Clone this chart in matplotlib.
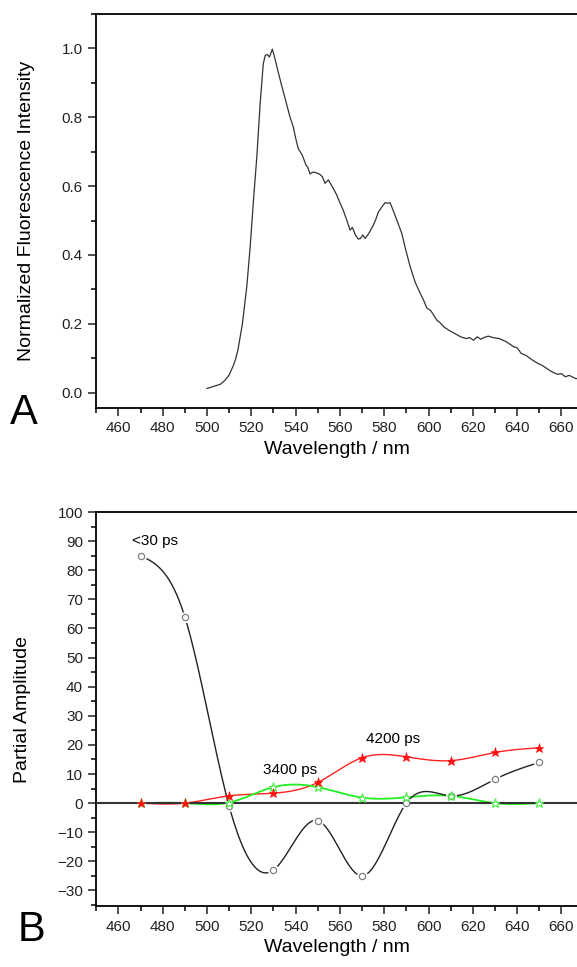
#fluorescence spectrum (A) and partial amplitudes (B)

import numpy as np
from matplotlib import pyplot as plt
from matplotlib.ticker import MultipleLocator

plt.rcParams['font.family'] = ['Liberation Sans', 'DejaVu Sans']

# panel A: normalized emission spectrum
spec_wl = [500, 503, 506, 508, 510, 512, 513, 514, 516, 518, 519.5, 521, 522.5, 524,
           525.4, 526.3, 527.3, 528.2, 529.5, 530.5, 532.2, 534, 535.7, 537.5, 539, 540,
           541.2, 543, 544.7, 545.5, 546.5, 547.5, 548.8, 550.7, 552, 553.3, 554.8, 557,
           558.5, 560.1, 561.5, 563.1, 564.6, 565.6, 567, 568.3, 569.3, 570.3, 571.4, 573,
           575.1, 576, 577.4, 579, 580.4, 581.5, 582.6, 584, 585.7, 587.9, 589.5, 591.7,
           594, 596.2, 598, 599.2, 601, 603.8, 605.2, 607.1, 609.5, 612, 614.5, 617,
           618.5, 620.3, 622, 623.6, 625, 627, 629, 631.9, 635, 638.5, 640, 641.8, 644,
           645.9, 647.5, 649.3, 651, 653.4, 655, 656.5, 658.3, 660, 661.7, 663.5, 666.3, 668]
spec_int = [0.012, 0.018, 0.024, 0.035, 0.051, 0.080, 0.099, 0.125, 0.200, 0.310, 0.424,
            0.560, 0.685, 0.840, 0.955, 0.980, 0.982, 0.975, 0.998, 0.975, 0.930, 0.885,
            0.844, 0.800, 0.771, 0.740, 0.709, 0.690, 0.661, 0.655, 0.635, 0.640, 0.640,
            0.635, 0.628, 0.608, 0.618, 0.593, 0.575, 0.550, 0.530, 0.501, 0.472, 0.480,
            0.458, 0.446, 0.448, 0.458, 0.448, 0.462, 0.487, 0.500, 0.525, 0.540, 0.552,
            0.550, 0.552, 0.530, 0.501, 0.463, 0.420, 0.366, 0.320, 0.289, 0.265, 0.246,
            0.238, 0.210, 0.203, 0.190, 0.180, 0.171, 0.162, 0.157, 0.160, 0.152, 0.162,
            0.155, 0.160, 0.164, 0.160, 0.157, 0.148, 0.133, 0.130, 0.114, 0.108, 0.099,
            0.092, 0.085, 0.080, 0.070, 0.063, 0.058, 0.053, 0.055, 0.046, 0.050, 0.041,
            0.040]

# panel B: decay associated amplitudes
amp_wl = [470, 490, 510, 530, 550, 570, 590, 610, 630, 650]
amp_30ps = [85, 64, -1, -23, -6, -25, 0, 2.5, 8.2, 14]
amp_3400ps = [0, 0, 0.2, 5.5, 5.5, 1.9, 2.0, 2.5, 0, 0]
amp_4200ps = [0, 0, 2.5, 3.4, 7.1, 15.6, 15.9, 14.6, 17.4, 19.0]


def natural_spline(x, y, xs):
    x = np.asarray(x, float)
    y = np.asarray(y, float)
    n = len(x)
    h = np.diff(x)
    A = np.zeros((n, n))
    b = np.zeros(n)
    A[0, 0] = 1
    A[-1, -1] = 1
    for i in range(1, n - 1):
        A[i, i - 1] = h[i - 1]
        A[i, i] = 2 * (h[i - 1] + h[i])
        A[i, i + 1] = h[i]
        b[i] = 6 * ((y[i + 1] - y[i]) / h[i] - (y[i] - y[i - 1]) / h[i - 1])
    M = np.linalg.solve(A, b)
    k = np.clip(np.searchsorted(x, xs) - 1, 0, n - 2)
    t1 = x[k + 1] - xs
    t0 = xs - x[k]
    hk = h[k]
    return (M[k] * t1**3 + M[k + 1] * t0**3) / (6 * hk) \
        + (y[k] / hk - M[k] * hk / 6) * t1 + (y[k + 1] / hk - M[k + 1] * hk / 6) * t0


def style_axes(ax):
    ax.spines['right'].set_visible(False)
    for s in ['left', 'top', 'bottom']:
        ax.spines[s].set_linewidth(1.3)
    ax.xaxis.set_major_locator(MultipleLocator(20))
    ax.xaxis.set_minor_locator(MultipleLocator(10))
    ax.tick_params(which='major', direction='out', length=6, width=1.1,
                   labelsize=11, colors='#222222', top=False, right=False)
    ax.tick_params(which='minor', direction='out', length=3.5, width=1.1,
                   top=False, right=False)
    ax.set_xlim(450, 667)
    ax.set_xlabel('Wavelength / nm', fontsize=14, labelpad=4)


fig = plt.figure(figsize=(5.77, 9.67), dpi=100)

# ---- A
ax1 = fig.add_axes([0.1667, 0.578, 0.8333, 0.4075])
ax1.plot(spec_wl, spec_int, color='#333333', lw=0.9)
ax1.set_ylim(-0.045, 1.1)
ax1.yaxis.set_major_locator(MultipleLocator(0.2))
ax1.yaxis.set_minor_locator(MultipleLocator(0.1))
ax1.yaxis.set_major_formatter(plt.FormatStrFormatter('%.1f'))
style_axes(ax1)
ax1.set_ylabel('Normalized Fluorescence Intensity', fontsize=14)
ax1.yaxis.set_label_coords(-0.128, 0.5)
fig.text(0.042, 0.573, 'A', fontsize=30, ha='center', va='center')

# ---- B
ax2 = fig.add_axes([0.1667, 0.0626, 0.8333, 0.4079])
xs = np.linspace(470, 650, 400)
ax2.plot(xs, natural_spline(amp_wl, amp_4200ps, xs), color='#ff2020', lw=1.0, zorder=2)
ax2.plot(xs, natural_spline(amp_wl, amp_3400ps, xs), color='#22ee22', lw=1.3, zorder=2)
ax2.plot(xs, natural_spline(amp_wl, amp_30ps, xs), color='#222222', lw=1.0, zorder=2)
# gaps around the open circles
ax2.plot(amp_wl, amp_30ps, 'o', ms=8, mfc='white', mec='none', zorder=2.4)
ax2.axhline(0, color='#333333', lw=1.5, zorder=2.6)
ax2.plot(amp_wl, amp_30ps, 'o', ms=4.5, mfc='white', mec='#808080', mew=0.9, zorder=3)
ax2.plot(amp_wl, amp_3400ps, '*', ms=6.5, mfc='white', mec='#44ee44', mew=0.8, zorder=3)
ax2.plot(amp_wl, amp_4200ps, '*', ms=6.5, mfc='#ff1010', mec='#ff1010', mew=0.5, zorder=3)
ax2.text(476.5, 90.2, '<30 ps', fontsize=11, ha='center', va='center')
ax2.text(537.5, 11.4, '3400 ps', fontsize=11, ha='center', va='center')
ax2.text(584, 22.2, '4200 ps', fontsize=11, ha='center', va='center')
ax2.set_ylim(-35.5, 100)
ax2.yaxis.set_major_locator(MultipleLocator(10))
ax2.yaxis.set_minor_locator(MultipleLocator(5))
style_axes(ax2)
ax2.set_ylabel('Partial Amplitude', fontsize=14)
ax2.yaxis.set_label_coords(-0.135, 0.5)
fig.text(0.055, 0.038, 'B', fontsize=30, ha='center', va='center')

fig.savefig('out.png', dpi=100)
